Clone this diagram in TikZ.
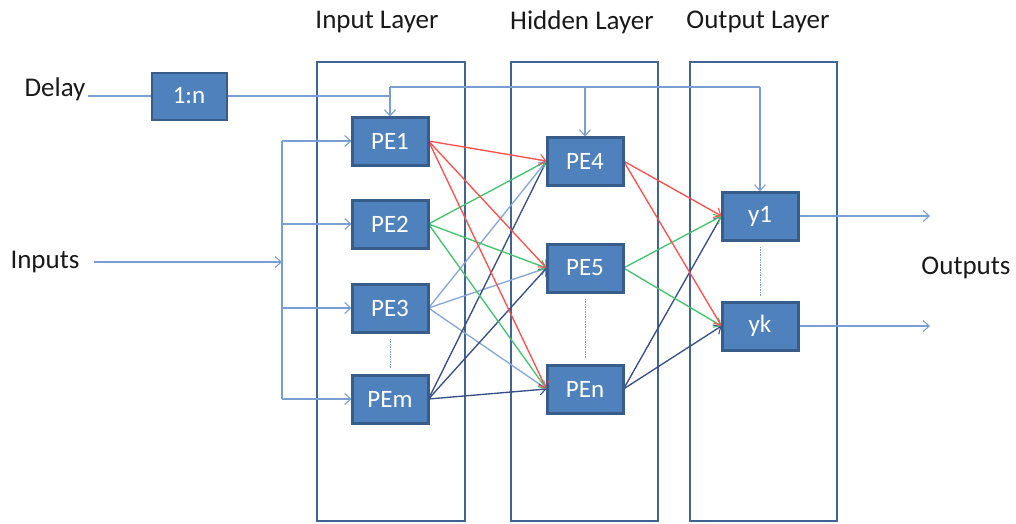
\documentclass[tikz,border=0pt]{standalone}
\usepackage{fontspec}
\setmainfont{Carlito}
\usetikzlibrary{arrows.meta}
\definecolor{boxfill}{RGB}{79,129,189}
\definecolor{boxline}{RGB}{56,93,138}
\definecolor{layerline}{RGB}{64,100,148}
\definecolor{feed}{RGB}{120,158,210}
\definecolor{wred}{RGB}{255,80,80}
\definecolor{wgreen}{RGB}{70,195,110}
\definecolor{wlight}{RGB}{135,168,214}
\definecolor{wdark}{RGB}{55,80,135}
\definecolor{txt}{RGB}{25,25,25}
\tikzset{
  pe/.style={draw=boxline, line width=2pt, fill=boxfill, minimum width=75pt,
    minimum height=47pt, inner sep=0pt, text=white, font=\fontsize{25}{28}\selectfont},
  layer/.style={draw=layerline, line width=2.8pt},
  lbl/.style={text=txt, font=\fontsize{27}{30}\selectfont, inner sep=0pt},
  tip/.style={-{Straight Barb[length=6pt,width=11pt,line width=1.1pt]}},
  feedline/.style={draw=feed, line width=1.3pt},
  wire/.style={line width=1.35pt, tip},
  gap/.style={draw=feed, line width=0.6pt, dash pattern=on 1.5pt off 1pt}
}
\begin{document}
\begin{tikzpicture}[x=1pt,y=-1pt]
\useasboundingbox (0,0) rectangle (1016,523);

% layer frames
\draw[layer] (317,62) rectangle (465,521);
\draw[layer] (511,62) rectangle (658,521);
\draw[layer] (690,62) rectangle (837,521);
\node[lbl] (tin) at (377,22) {Input Layer};
\node[lbl] (thid) at (582,22) {Hidden Layer};
\node[lbl] (tout) at (758,22) {Output Layer};

% processing elements
\node[pe] (dly) at (189,96) {1:n};
\node[pe] (pe1) at (390,141) {PE1};
\node[pe] (pe2) at (390,224) {PE2};
\node[pe] (pe3) at (390,308) {PE3};
\node[pe] (pem) at (390,399) {PEm};
\node[pe] (pe4) at (585,161) {PE4};
\node[pe] (pe5) at (585,268) {PE5};
\node[pe] (pen) at (585,389) {PEn};
\node[pe] (y1) at (760,216) {y1};
\node[pe] (yk) at (760,326) {yk};

% side labels
\node[lbl] (delay) at (55,89) {Delay};
\node[lbl] (inp) at (45,262) {Inputs};
\node[lbl] (outp) at (966,268) {Outputs};

% gaps in the element columns
\draw[gap] ([yshift=-6pt]pe3.south) -- ([yshift=6pt]pem.north);
\draw[gap] ([yshift=-6pt]pe5.south) -- ([yshift=6pt]pen.north);
\draw[gap] ([yshift=-6pt]y1.south) -- ([yshift=6pt]yk.north);

% delay taps
\coordinate (dtop) at (391,87);
\draw[feedline] ([xshift=2pt]delay.east |- dly.west) -- (dly.west);
\draw[feedline] (dly.east) -- (pe1.north |- dly.east);
\draw[feedline] (pe1.north |- dtop) -- (y1.north |- dtop);
\draw[feedline, tip] (pe1.north |- dtop) -- (pe1.north);
\draw[feedline, tip] (pe4.north |- dtop) -- (pe4.north);
\draw[feedline, tip] (y1.north |- dtop) -- (y1.north);

% input bus
\coordinate (bus) at (282,262);
\draw[feedline, tip] ([xshift=14pt]inp.east) -- (bus);
\draw[feedline] (bus |- pe1) -- (bus |- pem);
\foreach \n in {pe1,pe2,pe3,pem}
  \draw[feedline, tip] (bus |- \n) -- (\n.west);

% outputs
\coordinate (o1) at (930,216);
\coordinate (ok) at (930,326);
\draw[feedline, tip] (y1.east) -- (o1);
\draw[feedline, tip] (yk.east) -- (ok);

% input layer to hidden layer
\foreach \s/\c in {pe3/wlight,pem/wdark,pe2/wgreen,pe1/wred}
  \foreach \t in {pe4,pe5,pen}
    \draw[wire, draw=\c] (\s.east) -- (\t.west);

% hidden layer to output layer
\foreach \s/\c in {pen/wdark,pe5/wgreen,pe4/wred}
  \foreach \t in {y1,yk}
    \draw[wire, draw=\c] (\s.east) -- (\t.west);

% redraw box borders on top of wires
\foreach \n in {pe1,pe2,pe3,pem,pe4,pe5,pen,y1,yk}
  \draw[draw=boxline, line width=2pt] (\n.north west) rectangle (\n.south east);
\end{tikzpicture}
\end{document}
